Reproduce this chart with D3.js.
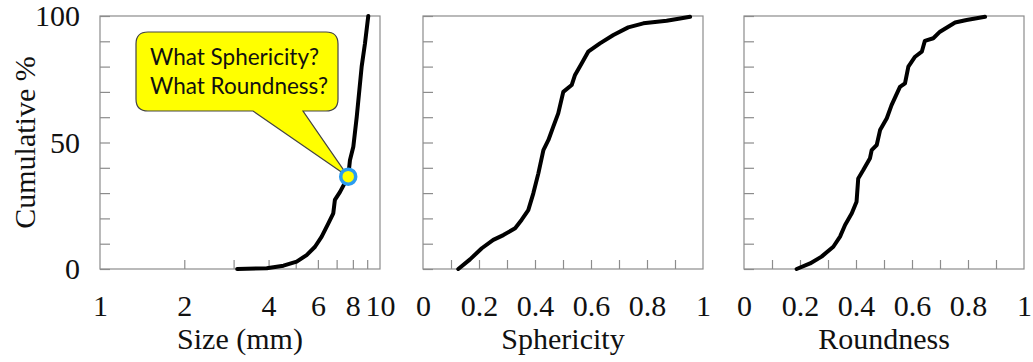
<!DOCTYPE html>
<html>
<head>
<meta charset="utf-8">
<script src="https://cdn.jsdelivr.net/npm/d3@7"></script>
<style>
  body { margin: 0; background: #fff; }
</style>
</head>
<body>
<script>
// cumulative curves
const sizeMm = [3.09, 3.94, 4.52, 5.04, 5.47, 5.86, 6.19, 6.54, 6.81, 6.90, 7.20, 7.70, 7.81, 8.03, 8.26, 8.60, 8.84, 9.08];
const sizeCum = [0, 0.3, 1.3, 2.9, 5.5, 8.8, 12.8, 18, 22, 27.3, 30.5, 36.5, 43, 48.3, 60.2, 80, 89.2, 100];

const spherVal = [0.126, 0.168, 0.21, 0.251, 0.287, 0.329, 0.352, 0.376, 0.394, 0.412, 0.43, 0.448, 0.465, 0.483, 0.501, 0.531, 0.543, 0.567, 0.59, 0.632, 0.68, 0.733, 0.787, 0.87, 0.918, 0.954];
const spherCum = [0, 3.8, 8.2, 11.5, 13.4, 16.1, 19.4, 23.3, 29.9, 37.8, 47, 51, 56.2, 61.5, 70, 72.7, 76.7, 81.3, 85.9, 89.2, 92.5, 95.5, 97.1, 98.1, 99, 99.7];

const roundVal = [0.188, 0.236, 0.277, 0.319, 0.343, 0.361, 0.385, 0.402, 0.408, 0.426, 0.45, 0.456, 0.474, 0.486, 0.51, 0.527, 0.557, 0.575, 0.587, 0.611, 0.635, 0.646, 0.676, 0.7, 0.754, 0.795, 0.861];
const roundCum = [0, 2.2, 4.9, 8.8, 12.8, 17.4, 22, 26.6, 35.8, 39.1, 43.8, 47, 49, 54.9, 59.6, 64.8, 72, 73.4, 80, 83.9, 85.9, 90.2, 91.2, 93.8, 97.4, 98.4, 99.7];

const yTicks = [0, 10, 20, 30, 40, 50, 60, 70, 80, 90, 100];
const yLabels = [0, 50, 100];
const sizeTicks = [2, 3, 4, 5, 6, 7, 8, 9];
const sizeLabels = [1, 2, 4, 6, 8, 10];
const fracTicks = [0.1, 0.2, 0.3, 0.4, 0.5, 0.6, 0.7, 0.8, 0.9];
const fracLabels = [0, 0.2, 0.4, 0.6, 0.8, 1];

// the marked point on the size curve
const marked = { size: 7.7, cum: 36.5 };
const calloutLines = ["What Sphericity?", "What Roundness?"];

const width = 1033;
const height = 362;
const plotTop = 16, plotBottom = 269, pw = 280;
const serif = "'Liberation Serif', 'Times New Roman', serif";

const panels = [
  { left: 100, x: d3.scaleLog().domain([1, 10]), xs: sizeMm, ys: sizeCum,
    ticks: sizeTicks, labels: sizeLabels, title: "Size (mm)", yAxis: true },
  { left: 423, x: d3.scaleLinear().domain([0, 1]), xs: spherVal, ys: spherCum,
    ticks: fracTicks, labels: fracLabels, title: "Sphericity" },
  { left: 744, x: d3.scaleLinear().domain([0, 1]), xs: roundVal, ys: roundCum,
    ticks: fracTicks, labels: fracLabels, title: "Roundness" }
];

const y = d3.scaleLinear().domain([0, 100]).range([plotBottom, plotTop]);

const svg = d3.select("body").append("svg")
  .attr("width", width)
  .attr("height", height);

panels.forEach(function (p) {
  p.x.range([p.left, p.left + pw]);
  let g = svg.append("g");

  // frame
  g.append("rect")
    .attr("x", p.left).attr("y", plotTop)
    .attr("width", pw).attr("height", plotBottom - plotTop)
    .attr("fill", "none").attr("stroke", "#8c8c8c").attr("stroke-width", 1.2);

  // inner ticks
  g.append("g")
    .attr("transform", "translate(" + p.left + ",0)")
    .call(d3.axisRight(y).tickValues(yTicks).tickSize(10).tickFormat(""))
    .call(function (a) { a.select(".domain").remove(); a.selectAll("line").attr("stroke", "#8c8c8c").attr("stroke-width", 1.2); });

  g.append("g")
    .attr("transform", "translate(0," + plotBottom + ")")
    .call(d3.axisTop(p.x).tickValues(p.ticks).tickSize(9).tickFormat(""))
    .call(function (a) { a.select(".domain").remove(); a.selectAll("line").attr("stroke", "#8c8c8c").attr("stroke-width", 1.2); });

  // tick labels
  g.append("g")
    .attr("transform", "translate(0," + plotBottom + ")")
    .call(d3.axisBottom(p.x).tickValues(p.labels).tickSize(0).tickPadding(26).tickFormat(d3.format("")))
    .call(function (a) {
      a.select(".domain").remove();
      a.attr("font-size", 30).attr("font-family", serif);
      a.selectAll("text").attr("fill", "#111");
    });

  g.append("text")
    .attr("x", p.left + pw / 2).attr("y", 349)
    .attr("text-anchor", "middle")
    .attr("font-family", serif)
    .attr("font-size", 30).attr("fill", "#111")
    .text(p.title);

  if (p.yAxis) {
    g.append("g")
      .attr("transform", "translate(" + p.left + ",0)")
      .call(d3.axisLeft(y).tickValues(yLabels).tickSize(0).tickPadding(20))
      .call(function (a) {
        a.select(".domain").remove();
        a.attr("font-size", 30).attr("font-family", serif);
        a.selectAll("text").attr("fill", "#111");
      });
    g.append("text")
      .attr("transform", "translate(35," + (plotTop + plotBottom) / 2 + ") rotate(-90)")
      .attr("text-anchor", "middle")
      .attr("font-family", serif)
      .attr("font-size", 30).attr("fill", "#111")
      .text("Cumulative %");
  }

  // curve
  const line = d3.line()
    .x(function (d, i) { return p.x(p.xs[i]); })
    .y(function (d, i) { return y(p.ys[i]); });
  g.append("path")
    .datum(p.xs)
    .attr("d", line)
    .attr("fill", "none")
    .attr("stroke", "#000")
    .attr("stroke-width", 4)
    .attr("stroke-linejoin", "round")
    .attr("stroke-linecap", "round");
});

// callout pointing at the marked point
const px = panels[0].x(marked.size);
const py = y(marked.cum);
const box = { x: 136, y: 32, w: 202, h: 79, r: 12 };
const callout = svg.append("g");

callout.append("path")
  .attr("d", "M" + (box.x + box.r) + "," + box.y +
    " H" + (box.x + box.w - box.r) + " Q" + (box.x + box.w) + "," + box.y + " " + (box.x + box.w) + "," + (box.y + box.r) +
    " V" + (box.y + box.h - box.r) + " Q" + (box.x + box.w) + "," + (box.y + box.h) + " " + (box.x + box.w - box.r) + "," + (box.y + box.h) +
    " H303 L" + px + "," + py + " L253," + (box.y + box.h) +
    " H" + (box.x + box.r) + " Q" + box.x + "," + (box.y + box.h) + " " + box.x + "," + (box.y + box.h - box.r) +
    " V" + (box.y + box.r) + " Q" + box.x + "," + box.y + " " + (box.x + box.r) + "," + box.y + " Z")
  .attr("fill", "#ffff00")
  .attr("stroke", "#444")
  .attr("stroke-width", 1.2);

callout.selectAll("text.c")
  .data(calloutLines)
  .enter()
    .append("text")
    .attr("class", "c")
    .attr("x", 150)
    .attr("y", function (d, i) { return 65 + i * 29; })
    .attr("font-family", "Lato, 'Open Sans', sans-serif")
    .attr("font-size", 22.5)
    .attr("fill", "#111")
    .text(function (d) { return d; });

callout.append("circle")
  .attr("cx", px).attr("cy", py).attr("r", 7.5)
  .attr("fill", "#ffff00")
  .attr("stroke", "#2b9cf0")
  .attr("stroke-width", 3.5);
</script>
</body>
</html>
